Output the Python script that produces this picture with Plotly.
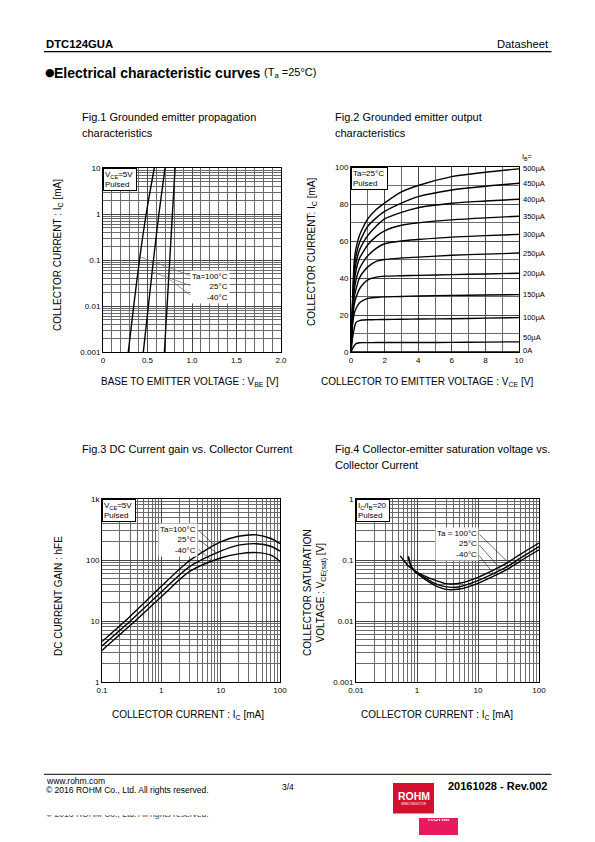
import numpy as np
import plotly.graph_objects as go

W, H = 595, 842
FONT = "Liberation Sans, Arial, Helvetica, sans-serif"

# ---------------- DATA ----------------
# Fig.1  Grounded emitter propagation characteristics (VBE [V] vs IC [mA])
f1_ic = [0.001, 0.01, 0.1, 1, 10]
f1_vbe_100 = [0.284, 0.345, 0.41, 0.485, 0.576]
f1_vbe_25 = [0.453, 0.51, 0.567, 0.628, 0.697]
f1_vbe_m40 = [0.69, 0.72, 0.75, 0.78, 0.81]
f1_labels = ["Ta=100°C", "25°C", "-40°C"]

# Fig.2  Grounded emitter output characteristics (IC [mA] vs VCE [V])
f2_vce = [0, 0.1, 0.2, 0.3, 0.5, 0.75, 1, 1.5, 2, 3, 4, 6, 8, 10]
f2_ic_500 = [0, 30, 50, 56, 63, 68, 72, 77, 80.5, 86.5, 90, 94.8, 97.2, 99]
f2_ic_450 = [0, 28, 46, 52, 59, 64, 68, 72.5, 76, 80.5, 84, 87.6, 89.6, 91.2]
f2_ic_400 = [0, 26, 42, 48, 55, 59.5, 63, 68, 72, 75.5, 78, 80.4, 81.6, 82.6]
f2_ic_350 = [0, 24, 38, 44, 50.5, 54.5, 58, 62.5, 65.5, 68.5, 69.8, 71.4, 72.5, 73.4]
f2_ic_300 = [0, 22, 34, 39, 45, 49, 52, 56, 58.5, 60, 60.8, 62.1, 62.9, 63.6]
f2_ic_250 = [0, 20, 30, 34, 40, 43.5, 46, 49, 50, 50.8, 51.3, 52.3, 52.9, 53.5]
f2_ic_200 = [0, 18, 26, 29.5, 34, 37, 39, 40.5, 41, 41.2, 41.4, 41.8, 42.2, 42.6]
f2_ic_150 = [0, 15, 21, 23.5, 26.5, 28, 29, 29.5, 29.8, 30, 30.3, 30.6, 30.8, 31]
f2_ic_100 = [0, 8, 13, 16, 17, 17.3, 17.4, 17.5, 17.6, 17.7, 17.8, 18, 18.3, 18.6]
f2_ic_50 = [0, 2, 3.5, 4.5, 5, 5.05, 5.05, 5.1, 5.1, 5.1, 5.15, 5.2, 5.35, 5.5]
f2_ic_0 = [0, 0, 0, 0, 0, 0, 0, 0, 0, 0, 0, 0, 0, 0]
f2_ib_labels = ["500µA", "450µA", "400µA", "350µA", "300µA", "250µA",
                "200µA", "150µA", "100µA", "50µA", "0A"]

# Fig.3  DC current gain vs collector current
f3_ic = [0.1, 0.3, 1, 3, 10, 20, 40, 70, 100]
f3_hfe_100 = [4.6, 12, 37, 98, 198, 245, 258, 225, 185]
f3_hfe_25 = [3.9, 10, 30, 78, 140, 175, 185, 168, 140]
f3_hfe_m40 = [3.3, 8.5, 25, 65, 108, 126, 132, 120, 95]
f3_labels = ["Ta=100°C", "25°C", "-40°C"]

# Fig.4  Collector-emitter saturation voltage vs collector current
f4_ic_100 = [0.53, 0.6, 0.72, 0.85, 1, 1.5, 2, 3, 5, 10, 20, 30, 50, 100]
f4_v_100 = [0.117, 0.1, 0.08, 0.07, 0.063, 0.052, 0.0465, 0.041, 0.0415, 0.052, 0.072, 0.09, 0.125, 0.19]
f4_ic_25 = [0.72, 0.8, 0.9, 1, 1.5, 2, 3, 5, 10, 20, 30, 50, 100]
f4_v_25 = [0.115, 0.08, 0.068, 0.062, 0.048, 0.041, 0.0362, 0.0365, 0.0458, 0.063, 0.078, 0.108, 0.166]
f4_ic_m40 = [0.72, 0.8, 0.9, 1, 1.5, 2, 3, 5, 10, 20, 30, 50, 100]
f4_v_m40 = [0.113, 0.078, 0.066, 0.06, 0.045, 0.038, 0.033, 0.0335, 0.0415, 0.057, 0.07, 0.097, 0.147]
f4_labels = ["Ta = 100°C", "25°C", "-40°C"]

# tick labels
f1_xt = [0, 0.5, 1.0, 1.5, 2.0]; f1_xtt = ["0", "0.5", "1.0", "1.5", "2.0"]
f1_yt = [0.001, 0.01, 0.1, 1, 10]; f1_ytt = ["0.001", "0.01", "0.1", "1", "10"]
f2_xt = [0, 2, 4, 6, 8, 10]; f2_yt = [0, 20, 40, 60, 80, 100]
f3_xt = [0.1, 1, 10, 100]; f3_xtt = ["0.1", "1", "10", "100"]
f3_yt = [1, 10, 100, 1000]; f3_ytt = ["1", "10", "100", "1k"]
f4_xt = [0.1, 1, 10, 100]; f4_xtt = ["0.01", "1", "10", "100"]
f4_yt = [0.001, 0.01, 0.1, 1]; f4_ytt = ["0.001", "0.01", "0.1", "1"]

# ---------------- LAYOUT GEOMETRY (pixels) ----------------
GEOM = {1: (103, 281, 168, 352), 2: (351, 519, 167, 352),
        3: (102, 280, 499, 682), 4: (356, 539, 499, 682)}
RANGES = {1: ([0, 2], [-3, 1]), 2: ([0, 10], [0, 100]),
          3: ([-1, 2], [0, 3]), 4: ([-1, 2], [-3, 0])}


def px2ax(n, px, py):
    l, r, t, b = GEOM[n]
    (x0, x1), (y0, y1) = RANGES[n]
    return x0 + (px - l) / (r - l) * (x1 - x0), y0 + (b - py) / (b - t) * (y1 - y0)


def refs(n):
    return ("x", "y") if n == 1 else (f"x{n}", f"y{n}")


def X(p):
    return p / W


def Y(p):
    return 1 - p / H


fig = go.Figure()
LINE = dict(color="black", width=1.4, shape="spline", smoothing=0.8)


def add(n, x, y):
    xr, yr = refs(n)
    fig.add_trace(go.Scatter(x=x, y=y, mode="lines", line=LINE, xaxis=xr, yaxis=yr,
                             showlegend=False, hoverinfo="skip"))


for v in (f1_vbe_100, f1_vbe_25, f1_vbe_m40):
    add(1, v, f1_ic)
f2_series = [f2_ic_500, f2_ic_450, f2_ic_400, f2_ic_350, f2_ic_300, f2_ic_250,
             f2_ic_200, f2_ic_150, f2_ic_100, f2_ic_50, f2_ic_0]
for s in f2_series:
    add(2, f2_vce, s)
for s in (f3_hfe_100, f3_hfe_25, f3_hfe_m40):
    add(3, f3_ic, s)
add(4, f4_ic_100, f4_v_100)
add(4, f4_ic_25, f4_v_25)
add(4, f4_ic_m40, f4_v_m40)

GRID = "#474747"
MGRID = "#6a6a6a"


def base_axis(n, is_x, **kw):
    l, r, t, b = GEOM[n]
    d = dict(showline=True, linecolor="black", linewidth=1, mirror=True, ticks="",
             tickfont=dict(family=FONT, size=8, color="black"), showgrid=True,
             gridcolor=GRID, gridwidth=1, zeroline=False, fixedrange=True, automargin=False,
             domain=[X(l), X(r)] if is_x else [Y(b), Y(t)])
    xr, yr = refs(n)
    d["anchor"] = yr if is_x else xr
    d.update(kw)
    return d


def log_minor(lo, hi):
    return dict(tickmode="array", tickvals=[m * 10 ** e for e in range(lo, hi) for m in range(2, 10)],
                showgrid=True, gridcolor=MGRID, gridwidth=1)


layout = dict(
    width=W, height=H, autosize=False, margin=dict(l=0, r=0, t=0, b=0, pad=0),
    paper_bgcolor="white", plot_bgcolor="white", hovermode=False, showlegend=False,
    font=dict(family=FONT, color="black"),
    xaxis=base_axis(1, True, range=RANGES[1][0], tickmode="array", tickvals=f1_xt, ticktext=f1_xtt,
                    minor=dict(dtick=0.1, showgrid=True, gridcolor=MGRID, gridwidth=1)),
    yaxis=base_axis(1, False, type="log", range=RANGES[1][1], tickmode="array", tickvals=f1_yt,
                    ticktext=f1_ytt, minor=log_minor(-3, 1)),
    xaxis2=base_axis(2, True, range=RANGES[2][0], tickmode="array", tickvals=f2_xt,
                     minor=dict(dtick=1, showgrid=True, gridcolor=MGRID, gridwidth=1)),
    yaxis2=base_axis(2, False, range=RANGES[2][1], tickmode="array", tickvals=f2_yt,
                     minor=dict(dtick=10, showgrid=True, gridcolor=MGRID, gridwidth=1)),
    xaxis3=base_axis(3, True, type="log", range=RANGES[3][0], tickmode="array", tickvals=f3_xt,
                     ticktext=f3_xtt, minor=log_minor(-1, 2)),
    yaxis3=base_axis(3, False, type="log", range=RANGES[3][1], tickmode="array", tickvals=f3_yt,
                     ticktext=f3_ytt, minor=log_minor(0, 3)),
    xaxis4=base_axis(4, True, type="log", range=RANGES[4][0], tickmode="array", tickvals=f4_xt,
                     ticktext=f4_xtt, minor=log_minor(-1, 2)),
    yaxis4=base_axis(4, False, type="log", range=RANGES[4][1], tickmode="array", tickvals=f4_yt,
                     ticktext=f4_ytt, minor=log_minor(-3, 0)),
)
fig.update_layout(**layout)

ann = []


def text(px, py, t, size=10, xanchor="left", bold=False, angle=0, color="black", family=FONT, **kw):
    d = dict(x=X(px), y=Y(py), xref="paper", yref="paper", text=f"<b>{t}</b>" if bold else t,
             showarrow=False, xanchor=xanchor, yanchor="middle", textangle=angle,
             font=dict(family=family, size=size, color=color))
    d.update(kw)
    ann.append(d)


# Header & footer
text(44, 44, "DTC124GUA", 11.3, bold=True)
text(551, 44, "Datasheet", 11.2, xanchor="right")
text(43, 73, "●", 11, family="DejaVu Sans")
text(52, 73, "<b>Electrical characteristic curves</b>", 14)
text(261.5, 73, "(T<sub>a</sub> =25°C)", 11)
text(44, 780.5, "www.rohm.com", 8.5)
text(44, 790, "© 2016 ROHM Co., Ltd. All rights reserved.", 8.5)
text(288, 787, "3/4", 8.5, xanchor="center")
text(550, 786, "20161028 - Rev.002", 11, xanchor="right", bold=True)
text(413.5, 796, "ROHM", 10.5, xanchor="center", bold=True, color="white")
text(413.5, 804, "SEMICONDUCTOR", 2.8, xanchor="center", color="white")
text(44, 817, "© 2016 ROHM Co., Ltd. All rights reserved.", 8.5, height=4, valign="bottom",
     color="#444")
text(438.5, 820.5, "<b>ROHM</b>", 7, xanchor="center", color="white", height=3, valign="bottom")

# Figure titles
text(80, 117, "Fig.1 Grounded emitter propagation", 11)
text(80, 133, "characteristics", 11)
text(333, 117, "Fig.2 Grounded emitter output", 11)
text(333, 133, "characteristics", 11)
text(80, 449, "Fig.3 DC Current gain vs. Collector Current", 11)
text(333, 449, "Fig.4 Collector-emitter saturation voltage vs.", 11)
text(333, 465, "Collector Current", 11)

# Axis titles
text(190, 382, "BASE TO EMITTER VOLTAGE : V<sub>BE</sub> [V]", 10, xanchor="center")
text(58, 255, "COLLECTOR CURRENT : I<sub>C</sub> [mA]", 10, xanchor="center", angle=-90)
text(427, 382, "COLLECTOR TO EMITTER VOLTAGE : V<sub>CE</sub> [V]", 10, xanchor="center")
text(312, 252, "COLLECTOR CURRENT: I<sub>C</sub> [mA]", 10, xanchor="center", angle=-90)
text(188, 715, "COLLECTOR CURRENT : I<sub>C</sub> [mA]", 10, xanchor="center")
text(58, 596, "DC CURRENT GAIN : hFE", 10, xanchor="center", angle=-90)
text(437, 715, "COLLECTOR CURRENT : I<sub>C</sub> [mA]", 10, xanchor="center")
text(315, 593, "COLLECTOR SATURATION<br>VOLTAGE : V<sub>CE(sat)</sub> [V]", 10, xanchor="center",
     angle=-90)


# condition boxes in top-left corner of each plot
def cond(n, t):
    xr, yr = refs(n)
    ann.append(dict(x=0, y=1, xref=f"{xr} domain", yref=f"{yr} domain", text=t, showarrow=False,
                    xanchor="left", yanchor="top", align="left", bgcolor="white",
                    bordercolor="black", borderwidth=1, borderpad=1,
                    font=dict(family=FONT, size=8, color="black")))


cond(1, "V<sub>CE</sub>=5V <br>Pulsed")
cond(2, "Ta=25°C <br>Pulsed")
cond(3, "V<sub>CE</sub>=5V <br>Pulsed")
cond(4, "I<sub>C</sub>/I<sub>B</sub>=20 <br>Pulsed")


# temperature label boxes
def label_box(right_px, top_px, labels):
    ann.append(dict(x=X(right_px), y=Y(top_px), xref="paper", yref="paper",
                    text="<br>".join(labels), showarrow=False, xanchor="right", yanchor="top",
                    align="right", bgcolor="white", borderpad=1,
                    font=dict(family=FONT, size=8, color="black")))


label_box(230, 270, f1_labels)
label_box(198, 523, f3_labels)
label_box(479, 527, f4_labels)


def leader(n, tip_x, tip_y, tail_px, tail_py, color="#555"):
    xr, yr = refs(n)
    ax_, ay_ = px2ax(n, tail_px, tail_py)
    ann.append(dict(x=tip_x, y=tip_y, xref=xr, yref=yr, ax=ax_, ay=ay_, axref=xr, ayref=yr,
                    text="", showarrow=True, arrowhead=0, arrowwidth=0.7, arrowcolor=color,
                    standoff=0))


# Fig.1 leaders: tip on curve at given IC
for vbe, c, tpy in zip((f1_vbe_100, f1_vbe_25, f1_vbe_m40), (0.117, 0.055, 0.039), (276, 286, 296)):
    lc = np.log10(c)
    leader(1, float(np.interp(lc, np.log10(f1_ic), vbe)), lc, 191.5, tpy, "#666")

# Fig.3 leaders
for h, c, tpy in zip((f3_hfe_100, f3_hfe_25, f3_hfe_m40), (8.0, 8.6, 7.4), (529, 538.5, 548)):
    lc = np.log10(c)
    leader(3, lc, float(np.interp(lc, np.log10(f3_ic), np.log10(h))), 197, tpy, "#333")

# Fig.4 leaders
for icl, vl, c, tpy in zip((f4_ic_100, f4_ic_25, f4_ic_m40), (f4_v_100, f4_v_25, f4_v_m40),
                           (31, 24, 19), (533, 543.5, 554)):
    lc = np.log10(c)
    leader(4, lc, float(np.interp(lc, np.log10(icl), np.log10(vl))), 478, tpy, "#333")

# Fig.2 IB labels at curve ends
nudge = {"50µA": 4, "0A": 2}
for s, lab in zip(f2_series, f2_ib_labels):
    ann.append(dict(x=f2_vce[-1], y=s[-1], xref="x2", yref="y2", text=lab, showarrow=False,
                    xanchor="left", yanchor="middle", xshift=2, yshift=nudge.get(lab, 0),
                    font=dict(family=FONT, size=7.5, color="black")))
ann.append(dict(x=1, y=1, xref="x2 domain", yref="y2 domain", text="I<sub>B</sub>=",
                showarrow=False, xanchor="left", yanchor="bottom", xshift=1, yshift=3,
                font=dict(family=FONT, size=7.5, color="black")))

shapes = [
    dict(type="line", xref="paper", yref="paper", x0=X(44), x1=X(551.5), y0=Y(51.7), y1=Y(51.7),
         line=dict(color="black", width=1.3)),
    dict(type="line", xref="paper", yref="paper", x0=X(44), x1=X(551.5), y0=Y(774.3), y1=Y(774.3),
         line=dict(color="black", width=1)),
    dict(type="rect", xref="paper", yref="paper", x0=X(393), x1=X(434), y0=Y(813.5), y1=Y(783),
         fillcolor="#d5102e", line=dict(width=0)),
    dict(type="rect", xref="paper", yref="paper", x0=X(419), x1=X(458), y0=Y(835), y1=Y(818),
         fillcolor="#e8195f", line=dict(width=0)),
]

fig.update_layout(annotations=ann, shapes=shapes)
fig.write_html("out.html", config={"displayModeBar": False},
               post_script="document.body.style.margin='0px';document.body.style.overflow='hidden';")
